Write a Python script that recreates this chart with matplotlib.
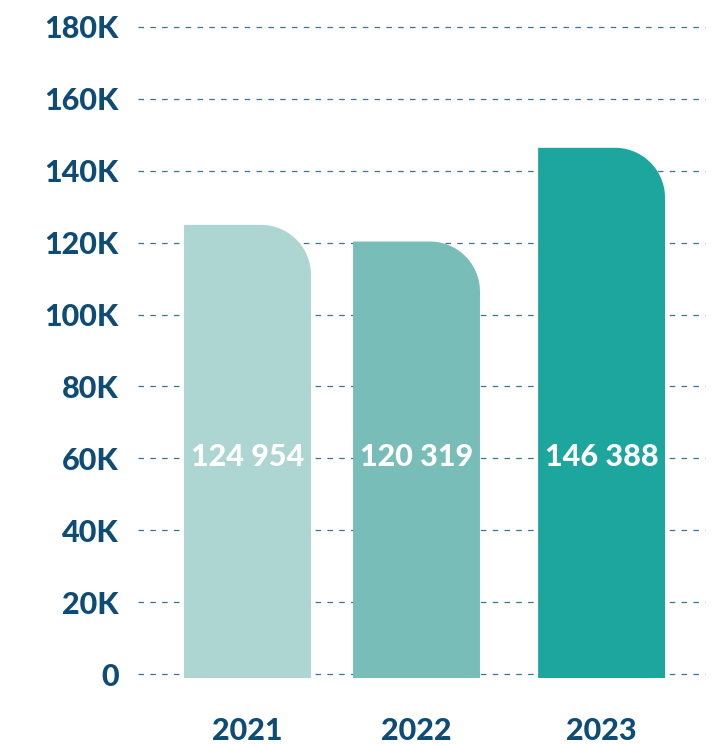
import numpy as np
import matplotlib
matplotlib.use("Agg")
import matplotlib.pyplot as plt
from matplotlib.path import Path
from matplotlib.patches import PathPatch

# Data
years = ["2021", "2022", "2023"]
values = [124954, 120319, 146388]
value_labels = ["124 954", "120 319", "146 388"]
bar_colors = ["#add5d1", "#78bdb7", "#1da69e"]
y_ticks = [0, 20000, 40000, 60000, 80000, 100000, 120000, 140000, 160000, 180000]

TEXT_COLOR = "#0f4c75"
GRID_COLOR = "#3f7298"
FONT = ["Lato", "DejaVu Sans"]
WEIGHT = 900

plt.rcParams["lines.scale_dashes"] = False

W, H, DPI = 728, 744, 100
fig = plt.figure(figsize=(W / DPI, H / DPI), dpi=DPI)

# axes placement in pixels
ax_left, ax_right = 138, 705
ax_top, ax_bottom = 27, 674
ax = fig.add_axes([ax_left / W, 1 - ax_bottom / H,
                   (ax_right - ax_left) / W, (ax_bottom - ax_top) / H])

slot = [0, 1, 2.095]          # horizontal slots for the three bars
bar_w = 0.751
x_lo = -0.648
x_hi = x_lo + (ax_right - ax_left) / 169.0
ax.set_xlim(x_lo, x_hi)
ax.set_ylim(0, 180000)

# pixel -> data scale factors
px_x = (x_hi - x_lo) / (ax_right - ax_left)
px_y = 180000 / (ax_bottom - ax_top)

bars = ax.bar(slot, values, width=bar_w, color=bar_colors, zorder=2)

radius_px = 50
drop_px = 4
for rect, col in zip(bars, bar_colors):
    x0 = rect.get_x()
    x1 = x0 + rect.get_width()
    top = rect.get_height()
    bottom = -drop_px * px_y
    rx, ry = radius_px * px_x, radius_px * px_y
    t = np.linspace(0, np.pi / 2, 40)
    arc_x = (x1 - rx) + rx * np.cos(t)
    arc_y = (top - ry) + ry * np.sin(t)
    verts = [(x0, bottom), (x1, bottom)]
    verts += list(zip(arc_x, arc_y))
    verts += [(x0, top), (x0, bottom)]
    codes = [Path.MOVETO] + [Path.LINETO] * (len(verts) - 2) + [Path.CLOSEPOLY]
    patch = PathPatch(Path(verts, codes), facecolor=col, edgecolor="none",
                      zorder=2, clip_on=False)
    rect.set_visible(False)
    ax.add_patch(patch)

# value labels inside bars
for xs, lab in zip(slot, value_labels):
    ax.text(xs, 60500, lab, ha="center", va="center", color="white",
            fontsize=22, fontweight=WEIGHT, family=FONT, zorder=3)

# dashed grid lines
for yv in y_ticks:
    ax.axhline(yv, color=GRID_COLOR, lw=0.9, ls=(0, (4, 4.5)), zorder=1,
               clip_on=False)

ax.set_yticks(y_ticks)
ax.set_yticklabels(["0" if v == 0 else f"{v // 1000}K" for v in y_ticks])
ax.set_xticks(slot)
ax.set_xticklabels(years)
ax.tick_params(axis="y", length=0, pad=14, labelsize=22, labelcolor=TEXT_COLOR)
ax.tick_params(axis="x", length=0, pad=31, labelsize=22, labelcolor=TEXT_COLOR)
for lbl in ax.get_yticklabels() + ax.get_xticklabels():
    lbl.set_fontweight(WEIGHT)
    lbl.set_family(FONT)

for sp in ax.spines.values():
    sp.set_visible(False)

fig.savefig("out.png", dpi=DPI, facecolor="white")
